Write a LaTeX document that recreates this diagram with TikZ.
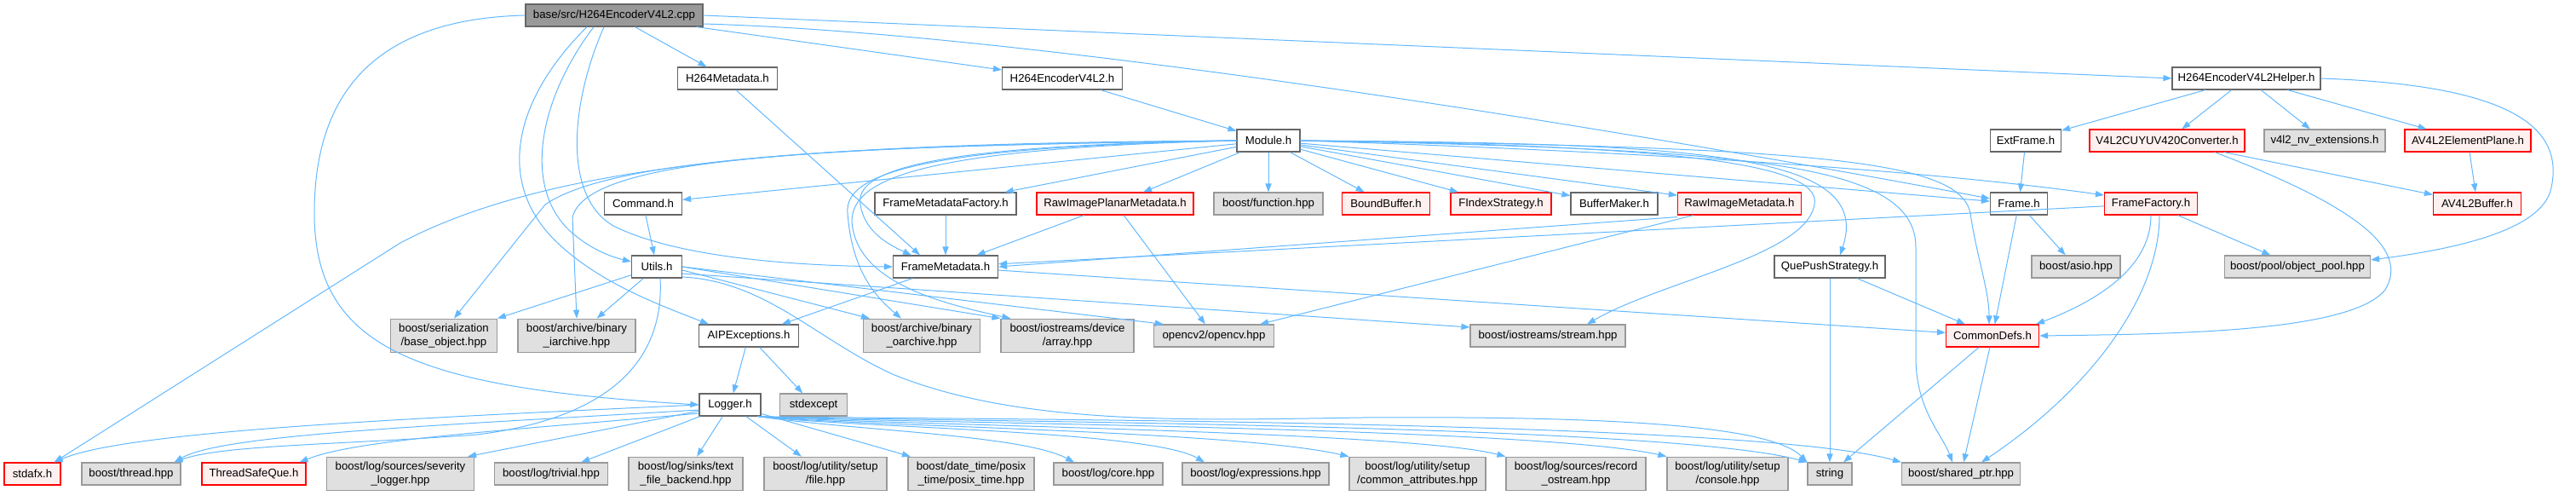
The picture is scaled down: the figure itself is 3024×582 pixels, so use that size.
\documentclass[tikz,border=0pt]{standalone}
\usepackage{fontspec}
\setmainfont{Liberation Sans}
\usetikzlibrary{arrows.meta}
\definecolor{edgeblue}{HTML}{63B8FF}
\definecolor{srcfill}{HTML}{999999}
\definecolor{boxline}{HTML}{666666}
\definecolor{extfill}{HTML}{E0E0E0}
\definecolor{extline}{HTML}{999999}
\definecolor{redfill}{HTML}{FFF0F0}
\begin{document}
\begin{tikzpicture}[x=0.5pt,y=-0.5pt,font=\fontsize{6.6}{7.6}\selectfont,
  box/.style={draw=boxline,line width=0.6pt,inner xsep=3pt,inner ysep=3pt,minimum height=13pt,align=center},
  srcbox/.style={box,fill=srcfill},
  hdr/.style={box,fill=white},
  ext/.style={box,draw=extline,fill=extfill},
  redhdr/.style={box,draw=red,fill=redfill},
  dep/.style={draw=edgeblue,line width=0.5pt,-{Triangle[length=5pt,width=3.6pt]}}]
\useasboundingbox (0,0) rectangle (3024,582);
\node[srcbox,minimum width=104pt] (root) at (721,18) {base/src/H264EncoderV4L2.cpp};
\node[hdr,minimum width=58.5pt] (h264meta) at (854,92) {H264Metadata.h};
\node[hdr,minimum width=70.5pt] (h264enc) at (1247,92) {H264EncoderV4L2.h};
\node[hdr,minimum width=87pt] (helper) at (2637,92) {H264EncoderV4L2Helper.h};
\node[hdr,minimum width=37pt] (module) at (1489,165) {Module.h};
\node[hdr,minimum width=41.5pt] (extframe) at (2378,165) {ExtFrame.h};
\node[redhdr,minimum width=91pt] (conv) at (2544,165) {V4L2CUYUV420Converter.h};
\node[ext,minimum width=71pt] (nvext) at (2729,165) {v4l2\_nv\_extensions.h};
\node[redhdr,minimum width=74pt] (plane) at (2897,165) {AV4L2ElementPlane.h};
\node[hdr,minimum width=45.5pt] (command) at (755,239) {Command.h};
\node[hdr,minimum width=83pt] (fmfact) at (1110,239) {FrameMetadataFactory.h};
\node[redhdr,minimum width=92pt] (rawplanar) at (1309,239) {RawImagePlanarMetadata.h};
\node[ext,minimum width=64pt] (function) at (1489,239) {boost/function.hpp};
\node[redhdr,minimum width=51.5pt] (boundbuf) at (1627,239) {BoundBuffer.h};
\node[redhdr,minimum width=59pt] (findex) at (1762,239) {FIndexStrategy.h};
\node[hdr,minimum width=51pt] (bufmaker) at (1895,239) {BufferMaker.h};
\node[redhdr,minimum width=72.5pt] (rawmeta) at (2042,239) {RawImageMetadata.h};
\node[hdr,minimum width=33.5pt] (frame) at (2370,239) {Frame.h};
\node[redhdr,minimum width=54.5pt] (framefact) at (2525,239) {FrameFactory.h};
\node[redhdr,minimum width=51.5pt] (v4l2buf) at (2908,239) {AV4L2Buffer.h};
\node[hdr,minimum width=29.5pt] (utils) at (771,313) {Utils.h};
\node[hdr,minimum width=61.5pt] (fmeta) at (1110,313) {FrameMetadata.h};
\node[hdr,minimum width=65pt] (quepush) at (2148,313) {QuePushStrategy.h};
\node[ext,minimum width=52pt] (asio) at (2437,313) {boost/asio.hpp};
\node[ext,minimum width=85.5pt] (objpool) at (2697,313) {boost/pool/object\_pool.hpp};
\node[ext,minimum width=62.5pt] (serial) at (521,394) {boost/serialization\\/base\_object.hpp};
\node[ext,minimum width=69pt] (iarch) at (677,394) {boost/archive/binary\\\_iarchive.hpp};
\node[hdr,minimum width=58.5pt] (aip) at (879,394) {AIPExceptions.h};
\node[ext,minimum width=68.5pt] (oarch) at (1082,394) {boost/archive/binary\\\_oarchive.hpp};
\node[ext,minimum width=78pt] (array) at (1253,394) {boost/iostreams/device\\/array.hpp};
\node[ext,minimum width=70.5pt] (opencv) at (1425,394) {opencv2/opencv.hpp};
\node[ext,minimum width=91pt] (stream) at (1817,394) {boost/iostreams/stream.hpp};
\node[redhdr,minimum width=54.5pt] (commondefs) at (2339,394) {CommonDefs.h};
\node[hdr,minimum width=36pt] (logger) at (857,475) {Logger.h};
\node[ext,minimum width=39.5pt] (stdexcept) at (955,475) {stdexcept};
\node[redhdr,minimum width=33pt] (stdafx) at (38,556) {stdafx.h};
\node[ext,minimum width=58pt] (thread) at (154,556) {boost/thread.hpp};
\node[redhdr,minimum width=61pt] (tsq) at (298,556) {ThreadSafeQue.h};
\node[ext,minimum width=86.5pt] (sevlog) at (470,556) {boost/log/sources/severity\\\_logger.hpp};
\node[ext,minimum width=66.5pt] (trivial) at (647,556) {boost/log/trivial.hpp};
\node[ext,minimum width=67pt] (textfile) at (805,556) {boost/log/sinks/text\\\_file\_backend.hpp};
\node[ext,minimum width=72pt] (setupfile) at (969,556) {boost/log/utility/setup\\/file.hpp};
\node[ext,minimum width=74pt] (posix) at (1140,556) {boost/date\_time/posix\\\_time/posix\_time.hpp};
\node[ext,minimum width=64pt] (core) at (1301,556) {boost/log/core.hpp};
\node[ext,minimum width=86pt] (expr) at (1474,556) {boost/log/expressions.hpp};
\node[ext,minimum width=80pt] (common) at (1664,556) {boost/log/utility/setup\\/common\_attributes.hpp};
\node[ext,minimum width=82pt] (record) at (1850,556) {boost/log/sources/record\\\_ostream.hpp};
\node[ext,minimum width=71pt] (console) at (2028,556) {boost/log/utility/setup\\/console.hpp};
\node[ext,minimum width=26pt] (string) at (2148,556) {string};
\node[ext,minimum width=69.5pt] (shared) at (2302,556) {boost/shared\_ptr.hpp};
\draw[dep] (root) -- (h264meta);
\draw[dep] (root) -- (h264enc);
\draw[dep] (root.east) -- (helper.west);
\draw[dep] ([yshift=-5pt]root.east) .. controls (1250,40) and (2000,170) .. ([yshift=3pt]frame.west);
\draw[dep] (root.west) .. controls (450,22) and (369,100) .. (369,250) .. controls (369,410) and (490,455) .. (logger.west);
\draw[dep] ([xshift=-16pt]root.south) .. controls (600,120) and (580,220) .. (660,290) .. controls (710,335) and (780,360) .. ([xshift=6pt]aip.north west);
\draw[dep] ([xshift=-12pt]root.south) .. controls (630,120) and (610,230) .. (680,280) .. controls (700,295) and (720,302) .. ([yshift=3pt]utils.west);
\draw[dep] ([xshift=-6pt]root.south) .. controls (670,120) and (660,230) .. (720,265) .. controls (800,305) and (950,312) .. (fmeta.west);
\draw[dep] (h264enc) -- (module);
\draw[dep] ([xshift=5pt]h264meta.south) -- ([xshift=-15pt]fmeta.north);
\draw[dep] (module) -- (command);
\draw[dep] (module.west) .. controls (950,168) and (650,190) .. (470,285) -- ([xshift=-4pt]stdafx.north east);
\draw[dep] (module.west) .. controls (1000,170) and (720,185) .. (640,240) -- ([xshift=6pt]serial.north);
\draw[dep] (module.west) .. controls (1000,172) and (690,180) .. (672,255) -- (iarch.north);
\draw[dep] (module) -- (fmfact);
\draw[dep] (module) -- (rawplanar);
\draw[dep] (module) -- (function);
\draw[dep] (module) -- (boundbuf);
\draw[dep] (module) -- (findex);
\draw[dep] (module) -- (bufmaker);
\draw[dep] (module) -- (rawmeta);
\draw[dep] (module.west) .. controls (1150,170) and (1000,190) .. (1010,240) .. controls (1015,275) and (1050,290) .. ([xshift=-20pt]fmeta.north);
\draw[dep] (module.west) .. controls (1100,172) and (990,200) .. (995,250) .. controls (1000,320) and (1030,350) .. ([xshift=-12pt]oarch.north);
\draw[dep] (module.west) .. controls (1080,174) and (1000,210) .. (1000,260) .. controls (1005,330) and (1100,355) .. ([xshift=6pt]array.north west);
\draw[dep] (module) -- (frame);
\draw[dep] (module.east) .. controls (2000,180) and (2300,205) .. ([yshift=5pt]framefact.west);
\draw[dep] (module.east) .. controls (2000,168) and (2200,180) .. ([xshift=6pt]quepush.north);
\draw[dep] (module.east) .. controls (1950,170) and (2140,190) .. (2130,240) .. controls (2120,300) and (1950,330) .. ([xshift=23pt]stream.north);
\draw[dep] (module.east) .. controls (2050,175) and (2249,190) .. (2249,290) -- (2249,420) .. controls (2249,480) and (2280,510) .. ([xshift=-5pt]shared.north);
\draw[dep] (module.east) .. controls (2150,172) and (2300,190) .. (2313,250) .. controls (2320,300) and (2335,340) .. ([xshift=-2pt]commondefs.north);
\draw[dep] (helper) -- (extframe);
\draw[dep] (helper) -- (conv);
\draw[dep] (helper) -- (nvext);
\draw[dep] (helper) -- (plane);
\draw[dep] (helper.east) .. controls (2950,100) and (3010,150) .. (2995,220) .. controls (2985,275) and (2860,295) .. ([yshift=4pt]objpool.east);
\draw[dep] (conv) -- (v4l2buf);
\draw[dep] ([xshift=28pt]conv.south) .. controls (2760,240) and (2830,290) .. (2800,340) .. controls (2760,390) and (2550,392) .. (commondefs.east);
\draw[dep] (plane) -- (v4l2buf);
\draw[dep] (extframe) -- (frame);
\draw[dep] (frame) -- (commondefs);
\draw[dep] (frame) -- (asio);
\draw[dep] (framefact) -- (fmeta);
\draw[dep] (framefact.south) .. controls (2525,310) and (2470,350) .. ([xshift=-2pt]commondefs.north east);
\draw[dep] ([xshift=5pt]framefact.south) .. controls (2535,350) and (2450,460) .. ([xshift=12pt]shared.north);
\draw[dep] (framefact) -- (objpool);
\draw[dep] ([yshift=-1pt]rawmeta.south west) -- (fmeta.east);
\draw[dep] (rawmeta) -- (opencv);
\draw[dep] (rawplanar) -- (fmeta);
\draw[dep] (rawplanar) -- (opencv);
\draw[dep] (fmfact) -- (fmeta);
\draw[dep] (fmeta) -- (commondefs);
\draw[dep] (fmeta) -- (aip);
\draw[dep] (quepush) -- (commondefs);
\draw[dep] (quepush) -- (string);
\draw[dep] (commondefs) -- (string);
\draw[dep] (commondefs) -- (shared);
\draw[dep] (command) -- (utils);
\draw[dep] (utils) -- (serial);
\draw[dep] (utils) -- (iarch);
\draw[dep] ([yshift=-2pt]utils.east) -- ([xshift=4pt]oarch.north west);
\draw[dep] (utils.east) -- (array.north west);
\draw[dep] (utils.east) -- ([xshift=6pt]opencv.north west);
\draw[dep] ([yshift=-4pt]utils.east) -- ([yshift=5pt]stream.west);
\draw[dep] ([yshift=-6pt]utils.east) .. controls (900,330) and (960,400) .. (1050,440) .. controls (1200,500) and (1400,493) .. (1600,490) .. controls (1900,488) and (2080,500) .. (string.north west);
\draw[dep] ([xshift=2pt]utils.south) .. controls (780,420) and (720,490) .. (560,510) .. controls (400,522) and (260,522) .. ([xshift=-4pt]thread.north east);
\draw[dep] (aip) -- (logger);
\draw[dep] (aip) -- (stdexcept);
\draw[dep] (logger.west) .. controls (500,490) and (150,505) .. ([xshift=-4pt]stdafx.north east);
\draw[dep] ([yshift=-3pt]logger.west) .. controls (500,500) and (260,510) .. ([xshift=-4pt]thread.north east);
\draw[dep] ([yshift=-5pt]logger.west) .. controls (600,505) and (420,515) .. ([xshift=-4pt]tsq.north east);
\draw[dep] (logger) -- ([xshift=-4pt]sevlog.north east);
\draw[dep] (logger) -- (trivial);
\draw[dep] (logger) -- (textfile);
\draw[dep] (logger) -- (setupfile);
\draw[dep] (logger) -- (posix);
\draw[dep] ([xshift=-2pt]logger.south east) .. controls (1000,505) and (1200,510) .. ([xshift=-20pt]core.north);
\draw[dep] ([xshift=-2pt]logger.south east) .. controls (1000,502) and (1350,505) .. ([xshift=-30pt]expr.north);
\draw[dep] ([xshift=-2pt]logger.south east) .. controls (1000,500) and (1450,505) .. (common.north west);
\draw[dep] ([xshift=-2pt]logger.south east) .. controls (1000,498) and (1650,505) .. (record.north west);
\draw[dep] ([xshift=-2pt]logger.south east) .. controls (1000,496) and (1800,500) .. (console.north west);
\draw[dep] ([xshift=-2pt]logger.south east) .. controls (1000,494) and (1950,495) .. (string.north west);
\draw[dep] ([xshift=-2pt]logger.south east) .. controls (1000,492) and (2050,490) .. (shared.north west);
\end{tikzpicture}
\end{document}
